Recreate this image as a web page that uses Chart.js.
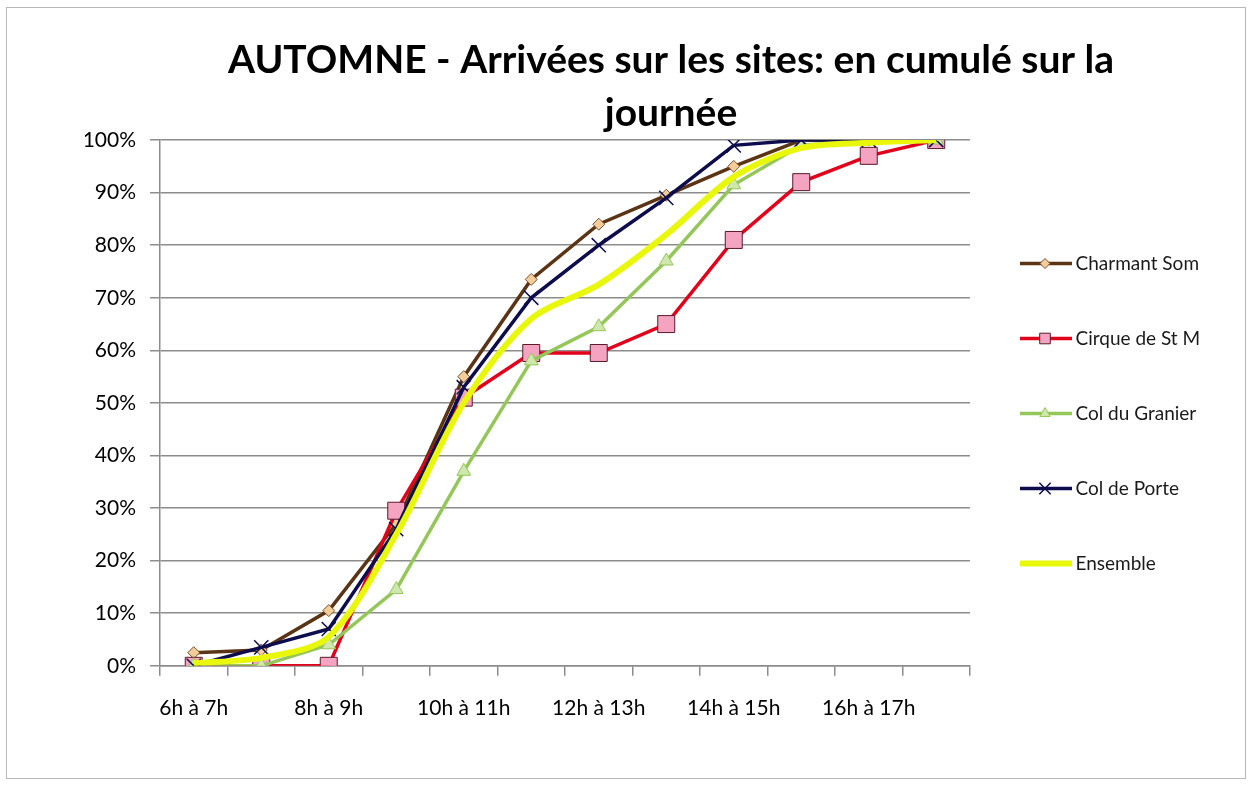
<!DOCTYPE html>
<html lang="fr">
<head>
<meta charset="utf-8">
<title>AUTOMNE - Arrivées sur les sites</title>
<script src="https://cdn.jsdelivr.net/npm/chart.js@4.4.1/dist/chart.umd.min.js"></script>
<style>
    html, body { margin: 0; padding: 0; background: #ffffff; }
    #wrap { position: relative; width: 1257px; height: 789px; }
    #frame { position: absolute; left: 6px; top: 7px; width: 1238px; height: 770px; border: 1px solid #b8b8b8; }
    #arrivals-chart { position: absolute; left: 0; top: 0; }
</style>
</head>
<body>
<div id="wrap">
    <div id="frame"></div>
    <canvas id="arrivals-chart" width="1257" height="789"></canvas>
</div>
<script>
// Tranches horaires (une étiquette sur deux est affichée sur l'axe)
const hours = [
    "6h à 7h", "7h à 8h", "8h à 9h", "9h à 10h", "10h à 11h", "11h à 12h",
    "12h à 13h", "13h à 14h", "14h à 15h", "15h à 16h", "16h à 17h", "17h à 18h",
];

// Arrivées cumulées, en % de la journée
const charmantSom = [2.5, 3, 10.5, 27, 55, 73.5, 84, 89.5, 95, 100, 100, 100];
const cirqueStM = [0, 0, 0, 29.5, 51, 59.5, 59.5, 65, 81, 92, 97, 100];
const colDuGranier = [0, 0, 4, 14.5, 37, 58, 64.5, 77, 91.5, 99, 100, 100];
const colDePorte = [0, 3.5, 7, 26, 53, 70, 80, 89, 99, 100, 100, 100];
const ensemble = [0.5, 1.5, 5.5, 25, 50, 66, 72.5, 82, 93, 98.5, 99.5, 100];

const yTicks = [0, 10, 20, 30, 40, 50, 60, 70, 80, 90, 100];
const titleLines = ["AUTOMNE - Arrivées sur les sites: en cumulé sur la", "journée"];

const AXIS_GREY = "#8c8c8c";
const FONT = "Lato";

/**
 * Builds one line dataset in the Excel look (line + marker).
 */
function lineSeries(label, data, style) {
    return {
        label: label,
        data: data,
        borderColor: style.color,
        borderWidth: style.width || 3.5,
        pointStyle: style.marker || false,
        pointRadius: style.marker ? style.radius : 0,
        pointBackgroundColor: style.fill || style.color,
        pointBorderColor: style.edge || style.color,
        pointBorderWidth: style.edgeWidth || 1,
        legendRadius: style.legendRadius || 0,
        tension: style.tension || 0,
        order: style.order,
    };
}

// Widen the right-hand legend so the plot stops where the sheet's did
const legendWidth = {
    id: "legendWidth",
    beforeInit(chart) {
        const fit = chart.legend.fit;
        chart.legend.fit = function () {
            fit.call(this);
            this.width = 287;
        };
    },
};

// Legend symbols: a short stroke with the series marker on top
const legendMarkers = {
    id: "legendMarkers",
    afterDraw(chart) {
        const legend = chart.legend;
        const ctx = chart.ctx;
        const boxWidth = legend.options.labels.boxWidth;
        legend.legendItems.forEach((item, i) => {
            const box = legend.legendHitBoxes[i];
            const ds = chart.data.datasets[item.datasetIndex];
            const y = box.top + box.height / 2;
            ctx.save();
            ctx.strokeStyle = ds.borderColor;
            ctx.lineWidth = ds.borderWidth;
            ctx.beginPath();
            ctx.moveTo(box.left, y);
            ctx.lineTo(box.left + boxWidth + 6, y);
            ctx.stroke();
            if (ds.pointStyle) {
                ctx.fillStyle = ds.pointBackgroundColor;
                ctx.strokeStyle = ds.pointBorderColor;
                ctx.lineWidth = ds.pointBorderWidth;
                Chart.helpers.drawPoint(ctx, {
                    pointStyle: ds.pointStyle,
                    radius: ds.legendRadius,
                    borderWidth: ds.pointBorderWidth,
                    rotation: 0,
                }, box.left + 25, y);
            }
            ctx.restore();
        });
    },
};

const datasets = [
    lineSeries("Charmant Som", charmantSom, {
        color: "#5b3415", marker: "rectRot", fill: "#f2cc99", edge: "#7a5030",
        radius: 6, legendRadius: 5, order: 4,
    }),
    lineSeries("Cirque de St M", cirqueStM, {
        color: "#e3001b", marker: "rect", fill: "#f4a3c0", edge: "#5a1a2a",
        radius: 12, legendRadius: 7.5, order: 3,
    }),
    lineSeries("Col du Granier", colDuGranier, {
        color: "#95c65a", marker: "triangle", fill: "#cde8aa", edge: "#95c65a",
        radius: 8, legendRadius: 6, order: 2,
    }),
    lineSeries("Col de Porte", colDePorte, {
        color: "#0d0d4d", marker: "crossRot", edge: "#0d0d4d", edgeWidth: 1.5,
        radius: 10, legendRadius: 8, order: 1,
    }),
    lineSeries("Ensemble", ensemble, {
        color: "#e9f80a", width: 6, tension: 0.3, order: 0,
    }),
];

new Chart(document.getElementById("arrivals-chart"), {
    type: "line",
    data: { labels: hours, datasets: datasets },
    options: {
        responsive: false,
        animation: false,
        events: [],
        layout: { padding: { left: 85, right: 0, top: 0, bottom: 48 } },
        scales: {
            x: {
                offset: true,
                ticks: {
                    autoSkip: false,
                    maxRotation: 0,
                    padding: 20,
                    color: "#000000",
                    font: { family: FONT, size: 21 },
                    callback: (value, index) => (index % 2 === 0 ? hours[index] : ""),
                },
                grid: {
                    offset: true,
                    drawOnChartArea: false,
                    tickLength: 10,
                    color: AXIS_GREY,
                    lineWidth: 1.5,
                },
                border: { color: AXIS_GREY, width: 1.5 },
            },
            y: {
                min: yTicks[0],
                max: yTicks[yTicks.length - 1],
                afterBuildTicks: (axis) => {
                    axis.ticks = yTicks.map((v) => ({ value: v }));
                },
                afterFit: (axis) => {
                    axis.width = 75;
                },
                ticks: {
                    padding: 14,
                    color: "#000000",
                    font: { family: FONT, size: 21 },
                    callback: (value) => value + "%",
                },
                grid: { color: AXIS_GREY, lineWidth: 1.5, tickLength: 10 },
                border: { color: AXIS_GREY, width: 1.5 },
            },
        },
        plugins: {
            title: {
                display: true,
                text: titleLines,
                color: "#000000",
                font: { family: FONT, size: 39, weight: "bold", lineHeight: 1.36 },
                padding: { top: 34, bottom: 0 },
            },
            legend: {
                position: "right",
                align: "start",
                title: { display: true, text: "", font: { size: 10 }, padding: { top: 0, bottom: 189 } },
                labels: {
                    boxWidth: 46,
                    boxHeight: 25,
                    padding: 50,
                    color: "#1a1a1a",
                    font: { family: FONT, size: 19 },
                    generateLabels: (chart) =>
                        chart.data.datasets.map((ds, i) => ({
                            text: ds.label,
                            datasetIndex: i,
                            fillStyle: "rgba(0,0,0,0)",
                            strokeStyle: "rgba(0,0,0,0)",
                            lineWidth: 0,
                            hidden: false,
                            fontColor: "#1a1a1a",
                        })),
                },
            },
            tooltip: { enabled: false },
        },
    },
    plugins: [legendWidth, legendMarkers],
});
</script>
</body>
</html>
